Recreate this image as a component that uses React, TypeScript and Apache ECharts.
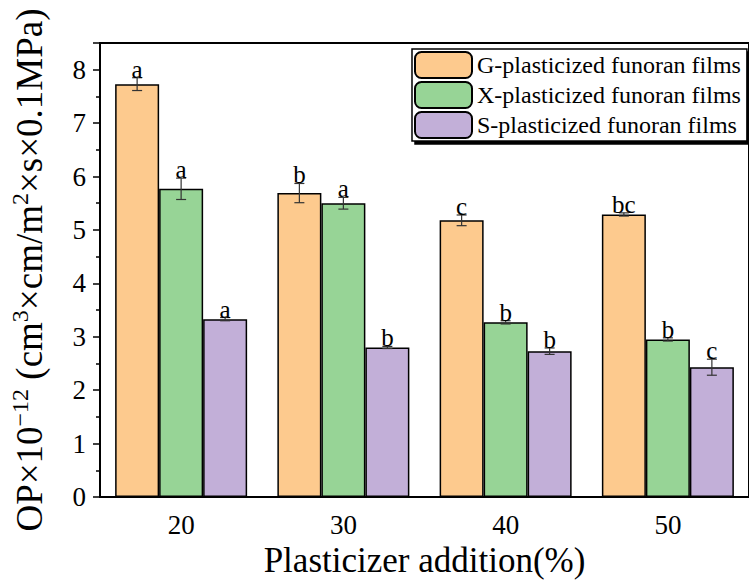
import React, { useEffect, useRef } from "react";
import * as echarts from "echarts";

const categories = ["20", "30", "40", "50"];
const seriesNames = [
  "G-plasticized funoran films",
  "X-plasticized funoran films",
  "S-plasticized funoran films",
];
const gValues = [7.73, 5.69, 5.18, 5.29];
const xValues = [5.77, 5.5, 3.27, 2.95];
const sValues = [3.33, 2.8, 2.73, 2.43];
const gErrors = [0.12, 0.18, 0.1, 0.03];
const xErrors = [0.2, 0.11, 0.03, 0.03];
const sErrors = [0.03, 0.02, 0.06, 0.15];
const gLetters = ["a", "b", "c", "bc"];
const xLetters = ["a", "a", "b", "b"];
const sLetters = ["a", "b", "b", "c"];
const colors = ["#FDCA8E", "#97D496", "#C2AFD8"];

const FONT = '"Liberation Serif", "Times New Roman", serif';

export default function App() {
  const ref = useRef<HTMLDivElement>(null);
  useEffect(() => {
    const chart = echarts.init(ref.current!, null, { renderer: "svg" });
    const values = [gValues, xValues, sValues];
    const errors = [gErrors, xErrors, sErrors];
    const letters = [gLetters, xLetters, sLetters];
    const errData: any[] = [];
    const letterList: string[] = [];
    for (let s = 0; s < 3; s++) {
      for (let c = 0; c < categories.length; c++) {
        errData.push([c, s, values[s][c], errors[s][c]]);
        letterList.push(letters[s][c]);
      }
    }
    const barW = 44;
    chart.setOption({
      animation: false,
      backgroundColor: "#ffffff",
      grid: {
        left: 94,
        top: 43,
        width: 664,
        height: 454,
        show: true,
        borderColor: "#000",
        borderWidth: 2,
        backgroundColor: "transparent",
      },
      legend: {
        orient: "vertical",
        left: 412,
        top: 49,
        padding: [2, 6, 2, 2],
        itemWidth: 57,
        itemHeight: 26,
        itemGap: 2,
        backgroundColor: "#fff",
        borderColor: "#000",
        borderWidth: 1.5,
        shadowColor: "#000",
        shadowOffsetX: 3,
        shadowOffsetY: 3,
        shadowBlur: 0,
        textStyle: { fontFamily: FONT, fontSize: 24, lineHeight: 26, color: "#000" },
        data: seriesNames,
      },
      xAxis: {
        type: "category",
        data: categories,
        name: "Plasticizer addition(%)",
        nameLocation: "middle",
        nameGap: 45,
        nameTextStyle: { fontFamily: FONT, fontSize: 35, color: "#000" },
        axisLine: { lineStyle: { color: "#000", width: 2 } },
        axisTick: { alignWithLabel: true, length: 8, lineStyle: { color: "#000", width: 1.5 } },
        axisLabel: { fontFamily: FONT, fontSize: 27, color: "#000", margin: 14 },
      },
      yAxis: {
        type: "value",
        min: 0,
        max: 8.5,
        interval: 1,
        name:
          "{n|OP×10}{s|−12}{n| (cm}{s|3}{n|×cm/m}{s|2}{n|×s×0.1MPa)}",
        nameLocation: "middle",
        nameGap: 52,
        nameRotate: 90,
        nameTextStyle: {
          rich: {
            n: { fontFamily: FONT, fontSize: 37, color: "#000", lineHeight: 40, verticalAlign: "bottom" },
            s: { fontFamily: FONT, fontSize: 24, color: "#000", lineHeight: 40, verticalAlign: "top" },
          },
        },
        splitLine: { show: false },
        axisLine: { show: true, lineStyle: { color: "#000", width: 2 } },
        axisTick: { show: true, length: 7, lineStyle: { color: "#000", width: 1.5 } },
        minorTick: { show: true, splitNumber: 2, length: 4, lineStyle: { color: "#000", width: 1.5 } },
        axisLabel: { fontFamily: FONT, fontSize: 27, color: "#000", margin: 14, showMaxLabel: false },
      },
      series: [
        ...seriesNames.map((name, i) => ({
          name,
          type: "bar",
          data: values[i],
          barWidth: barW,
          barGap: "0%",
          itemStyle: { color: colors[i], borderColor: "#000", borderWidth: 1.5 },
        })),
        {
          type: "custom",
          data: errData,
          encode: { x: 0, y: 2 },
          z: 10,
          clip: false,
          renderItem: (params: any, api: any) => {
            const c = api.value(0);
            const s = api.value(1);
            const v = api.value(2);
            const e = api.value(3);
            const off = (s - 1) * barW;
            const top = api.coord([c, v + e]);
            const bot = api.coord([c, v - e]);
            const x = top[0] + off;
            const capW = 5;
            const ls = { stroke: "#333", lineWidth: 1.2 };
            return {
              type: "group",
              children: [
                { type: "line", shape: { x1: x, y1: top[1], x2: x, y2: bot[1] }, style: ls },
                { type: "line", shape: { x1: x - capW, y1: top[1], x2: x + capW, y2: top[1] }, style: ls },
                { type: "line", shape: { x1: x - capW, y1: bot[1], x2: x + capW, y2: bot[1] }, style: ls },
                {
                  type: "text",
                  x: x,
                  y: top[1] + 4,
                  style: {
                    text: letterList[params.dataIndex],
                    align: "center",
                    verticalAlign: "bottom",
                    font: '25px ' + FONT,
                    fill: "#000",
                  },
                },
              ],
            };
          },
        },
      ],
    });
    return () => chart.dispose();
  }, []);
  return (
    <div
      ref={ref}
      style={{ position: "fixed", left: 0, top: 0, width: 749, height: 583 }}
    />
  );
}
